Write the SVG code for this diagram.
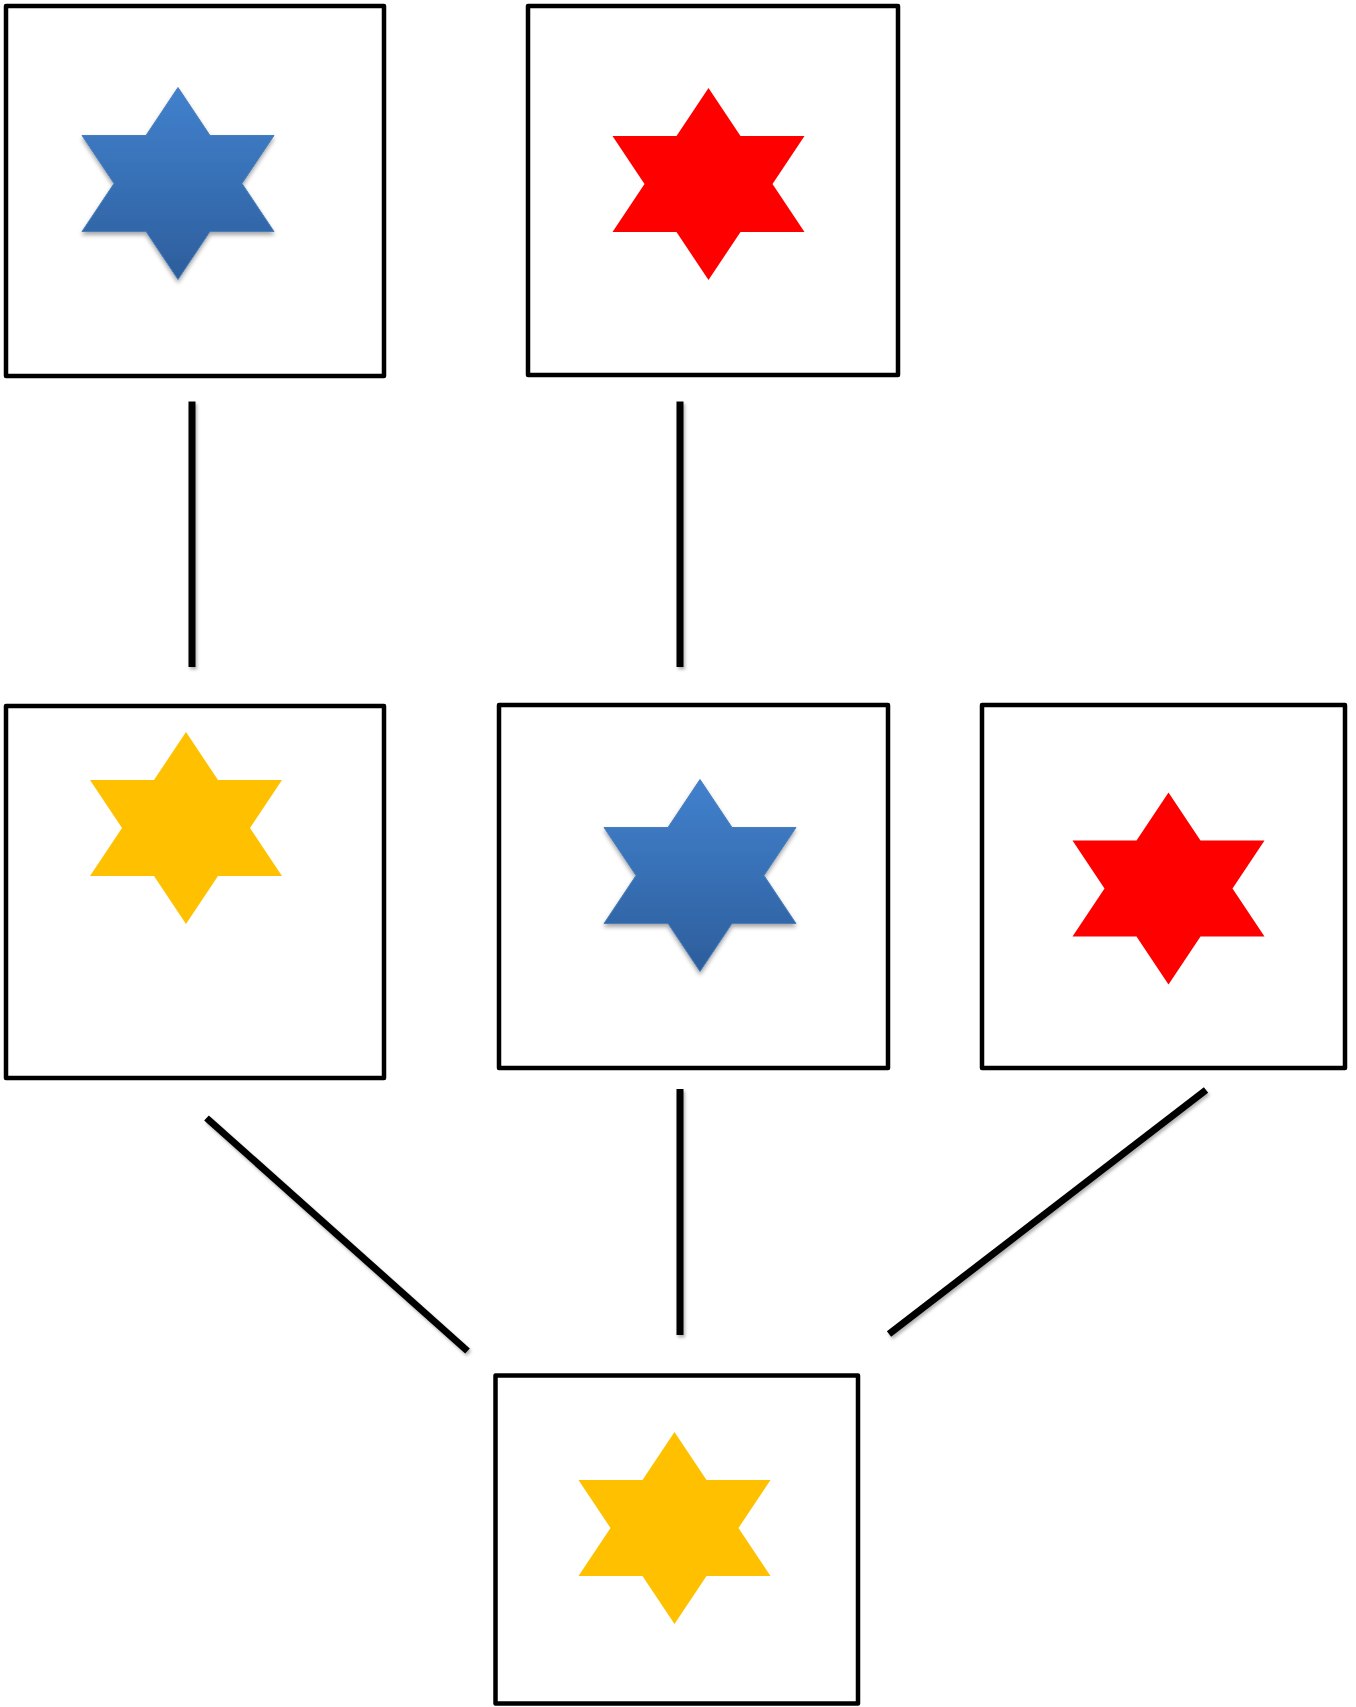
<svg xmlns="http://www.w3.org/2000/svg" xmlns:xlink="http://www.w3.org/1999/xlink" width="1356" height="1707" viewBox="0 0 1356 1707">
  <style>
    .box { fill: #ffffff; stroke: #000000; stroke-width: 4.5; stroke-linejoin: round; }
    .conn { stroke: #000000; stroke-width: 7; fill: none; stroke-linecap: butt; }
    .blue { fill: url(#blueGrad); stroke: #4a7ebb; stroke-width: 1; filter: url(#starShadow); }
    .red { fill: #ff0000; }
    .yellow { fill: #ffc000; }
  </style>
  <defs>
    <linearGradient id="blueGrad" x1="0" y1="0" x2="0" y2="1">
      <stop offset="0" stop-color="#4181cd"/>
      <stop offset="1" stop-color="#2d5e9c"/>
    </linearGradient>
    <filter id="starShadow" x="-20%" y="-20%" width="140%" height="140%">
      <feDropShadow dx="0" dy="3" stdDeviation="2" flood-color="#000000" flood-opacity="0.35"/>
    </filter>
    <filter id="lineShadow" x="-20%" y="-20%" width="140%" height="140%">
      <feDropShadow dx="1.5" dy="2.5" stdDeviation="1.5" flood-color="#000000" flood-opacity="0.3"/>
    </filter>
    <path id="star6" d="M96,0 L128,48 L192,48 L160,96 L192,144 L128,144 L96,192 L64,144 L0,144 L32,96 L0,48 L64,48 Z"/>
  </defs>

  <g id="connectors" filter="url(#lineShadow)">
    <line class="conn" x1="192" y1="401.5" x2="192" y2="667"/>
    <line class="conn" x1="680" y1="401.5" x2="680" y2="667"/>
    <line class="conn" x1="680" y1="1089" x2="680" y2="1335"/>
    <line class="conn" x1="206.5" y1="1118" x2="467.5" y2="1351"/>
    <line class="conn" x1="1206" y1="1090" x2="889" y2="1334"/>
  </g>

  <g id="node-top-left">
    <rect class="box" x="6" y="6" width="378" height="370"/>
    <use xlink:href="#star6" href="#star6" class="blue" transform="translate(82,87.5)"/>
  </g>
  <g id="node-top-middle">
    <rect class="box" x="528" y="6" width="370" height="369"/>
    <use xlink:href="#star6" href="#star6" class="red" transform="translate(612.5,88)"/>
  </g>
  <g id="node-mid-left">
    <rect class="box" x="6" y="706" width="378" height="372"/>
    <use xlink:href="#star6" href="#star6" class="yellow" transform="translate(90,732)"/>
  </g>
  <g id="node-mid-center">
    <rect class="box" x="499" y="705" width="389" height="363"/>
    <use xlink:href="#star6" href="#star6" class="blue" transform="translate(604,779.5)"/>
  </g>
  <g id="node-mid-right">
    <rect class="box" x="982" y="705" width="363" height="363"/>
    <use xlink:href="#star6" href="#star6" class="red" transform="translate(1072.5,792.5)"/>
  </g>
  <g id="node-bottom">
    <rect class="box" x="495.5" y="1375.5" width="362.5" height="328"/>
    <use xlink:href="#star6" href="#star6" class="yellow" transform="translate(578.5,1432)"/>
  </g>
</svg>
